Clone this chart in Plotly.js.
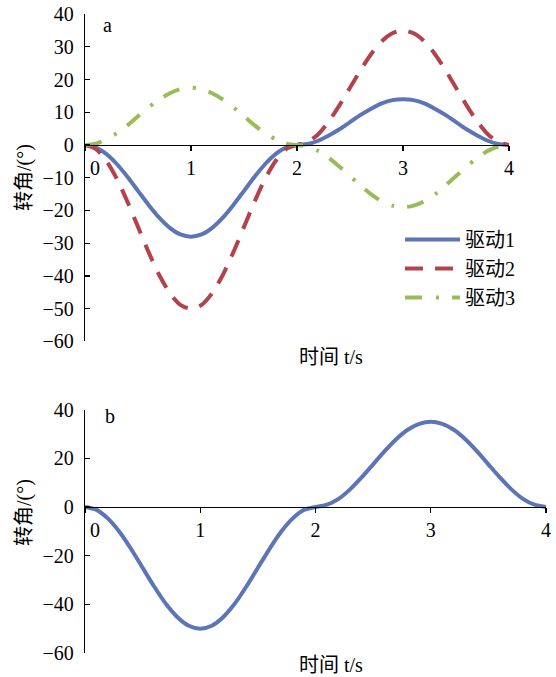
<!DOCTYPE html>
<html>
<head>
<meta charset="utf-8">
<script src="https://cdn.plot.ly/plotly-3.0.1.min.js"></script>
<style>html,body{margin:0;padding:0;background:#fff;}</style>
</head>
<body>
<div id="chart" style="width:556px;height:677px;"></div>
<script>
// ---- data ----
var timeS = [0,0.1,0.2,0.3,0.4,0.5,0.6,0.7,0.8,0.9,1,1.1,1.2,1.3,1.4,1.5,1.6,1.7,1.8,1.9,2,2.1,2.2,2.3,2.4,2.5,2.6,2.7,2.8,2.9,3,3.1,3.2,3.3,3.4,3.5,3.6,3.7,3.8,3.9,4];
var drive1 = [0,-0.7,-2.7,-5.8,-9.7,-14,-18.3,-22.2,-25.3,-27.3,-28,-27.3,-25.3,-22.2,-18.3,-14,-9.7,-5.8,-2.7,-0.7,0,0.3,1.3,2.9,4.8,7,9.2,11.1,12.7,13.7,14,13.7,12.7,11.1,9.2,7,4.8,2.9,1.3,0.3,0];
var drive2 = [0,-1.2,-4.8,-10.3,-17.3,-25,-32.7,-39.7,-45.2,-48.8,-50,-48.8,-45.2,-39.7,-32.7,-25,-17.3,-10.3,-4.8,-1.2,0,0.9,3.3,7.2,12.1,17.5,22.9,27.8,31.7,34.1,35,34.1,31.7,27.8,22.9,17.5,12.1,7.2,3.3,0.9,0];
var drive3 = [0,0.4,1.7,3.6,6,8.8,11.5,13.9,15.8,17.1,17.5,17.1,15.8,13.9,11.5,8.8,6,3.6,1.7,0.4,0,-0.5,-1.8,-3.9,-6.6,-9.5,-12.4,-15.1,-17.2,-18.5,-19,-18.5,-17.2,-15.1,-12.4,-9.5,-6.6,-3.9,-1.8,-0.5,0];
var driveB = [0,-1.2,-4.8,-10.3,-17.3,-25,-32.7,-39.7,-45.2,-48.8,-50,-48.8,-45.2,-39.7,-32.7,-25,-17.3,-10.3,-4.8,-1.2,0,0.9,3.3,7.2,12.1,17.5,22.9,27.8,31.7,34.1,35,34.1,31.7,27.8,22.9,17.5,12.1,7.2,3.3,0.9,0];
var seriesNames = ['驱动1','驱动2','驱动3'];
var xTickVals = [0,1,2,3,4];
var xTickText = ['\u00a0\u00a0\u00a0\u00a00','1','2','3','4'];
var yRange = [-60,40];
var yTitle = '转角/(°)';
var xTitle = '时间 t/s';
var panelLabels = ['a','b'];

// ---- layout helpers ----
var W = 556, H = 677;
var M = {l:85, r:10, t:14, b:24};
var PW = W - M.l - M.r, PH = H - M.t - M.b;
function px2x(p){ return (p - M.l)/PW; }
function px2y(p){ return (H - M.b - p)/PH; }

var topDom = [0.4875, 1];
var botDom = [0, 0.381];
var zeroFrac = (0 - yRange[0])/(yRange[1]-yRange[0]);

var FONT = 'Liberation Serif, "Noto Sans CJK SC", serif';
var FS = 20;
var colors = ['#5B75B6','#B3424C','#9BBB59'];

var traces = [
  {x: timeS, y: drive1, name: seriesNames[0], type:'scatter', mode:'lines', xaxis:'x', yaxis:'y',
   line:{color:colors[0], width:4, shape:'spline', smoothing:0.8}},
  {x: timeS, y: drive2, name: seriesNames[1], type:'scatter', mode:'lines', xaxis:'x', yaxis:'y',
   line:{color:colors[1], width:4, dash:'18px,12px', shape:'spline', smoothing:0.8}},
  {x: timeS, y: drive3, name: seriesNames[2], type:'scatter', mode:'lines', xaxis:'x', yaxis:'y',
   line:{color:colors[2], width:4, dash:'17px,14px,3px,13px', shape:'spline', smoothing:0.8}},
  {x: timeS, y: driveB, name: seriesNames[1], type:'scatter', mode:'lines', xaxis:'x2', yaxis:'y2', showlegend:false,
   line:{color:colors[0], width:4, shape:'spline', smoothing:0.8}}
];

var axisCommon = {showgrid:false, zeroline:false, showline:true, linecolor:'#000', linewidth:1.3,
  tickcolor:'#000', tickwidth:1.3, ticklen:5, tickfont:{family:FONT, size:FS, color:'#000'}};

var layout = {
  width: W, height: H,
  margin: {l:M.l, r:M.r, t:M.t, b:M.b, pad:0},
  paper_bgcolor:'#fff', plot_bgcolor:'rgba(0,0,0,0)',
  font:{family:FONT, size:FS, color:'#000'},
  showlegend:true,
  legend:{x:px2x(400), y:px2y(220), xanchor:'left', yanchor:'top', bgcolor:'rgba(0,0,0,0)',
    font:{family:FONT, size:FS, color:'#000'}, itemwidth:55, tracegroupgap:0},
  xaxis: Object.assign({}, axisCommon, {domain:[0, px2x(509)], range:[0,4], anchor:'free',
    position: topDom[0] + zeroFrac*(topDom[1]-topDom[0]), ticks:'outside',
    tickmode:'array', tickvals:xTickVals, ticktext:xTickText}),
  yaxis: Object.assign({}, axisCommon, {domain:topDom, range:yRange, anchor:'x', ticks:'inside',
    dtick:10, tick0:0, ticklabelstandoff:6}),
  xaxis2: Object.assign({}, axisCommon, {domain:[0,1], range:[0,4], anchor:'free',
    position: botDom[0] + zeroFrac*(botDom[1]-botDom[0]), ticks:'outside',
    tickmode:'array', tickvals:xTickVals, ticktext:xTickText}),
  yaxis2: Object.assign({}, axisCommon, {domain:botDom, range:yRange, anchor:'x2', ticks:'inside',
    dtick:20, tick0:0, ticklabelstandoff:6}),
  annotations: [
    {text:panelLabels[0], xref:'paper', yref:'paper', x:px2x(107), y:px2y(25), xanchor:'center', yanchor:'middle', showarrow:false, font:{family:FONT,size:FS,color:'#000'}},
    {text:panelLabels[1], xref:'paper', yref:'paper', x:px2x(110), y:px2y(416), xanchor:'center', yanchor:'middle', showarrow:false, font:{family:FONT,size:FS,color:'#000'}},
    {text:yTitle, xref:'paper', yref:'paper', x:px2x(24), y:px2y(177), xanchor:'center', yanchor:'middle', textangle:-90, showarrow:false, font:{family:FONT,size:FS,color:'#000'}},
    {text:yTitle, xref:'paper', yref:'paper', x:px2x(24), y:px2y(512), xanchor:'center', yanchor:'middle', textangle:-90, showarrow:false, font:{family:FONT,size:FS,color:'#000'}},
    {text:xTitle, xref:'paper', yref:'paper', x:px2x(331), y:px2y(357), xanchor:'center', yanchor:'middle', showarrow:false, font:{family:FONT,size:FS,color:'#000'}},
    {text:xTitle, xref:'paper', yref:'paper', x:px2x(331), y:px2y(665), xanchor:'center', yanchor:'middle', showarrow:false, font:{family:FONT,size:FS,color:'#000'}}
  ]
};

Plotly.newPlot('chart', traces, layout, {displayModeBar:false, staticPlot:true});
</script>
</body>
</html>
